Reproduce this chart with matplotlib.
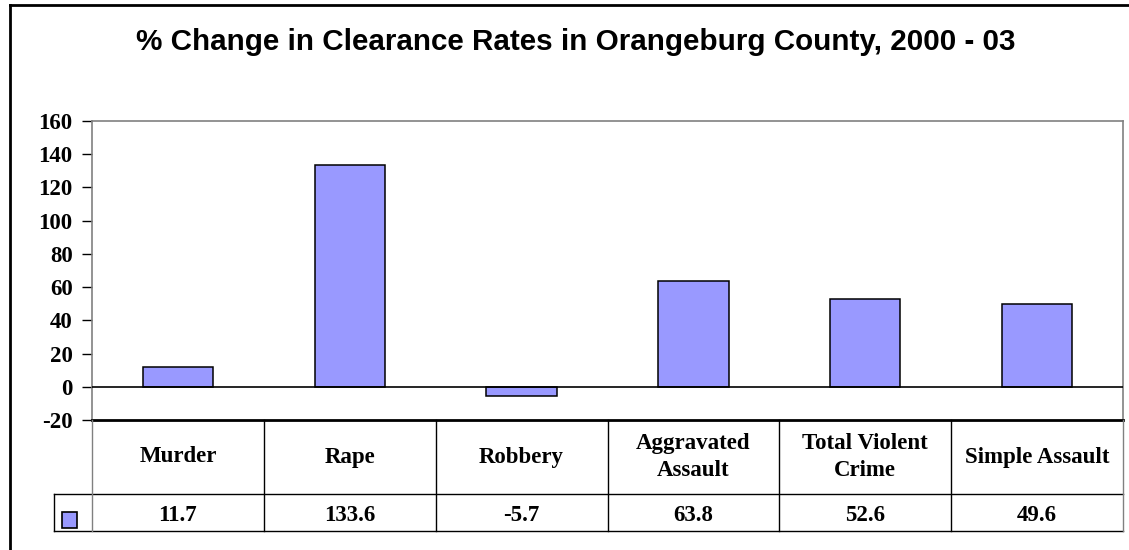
import matplotlib
matplotlib.use("Agg")
import matplotlib.pyplot as plt
from matplotlib.lines import Line2D
from matplotlib.patches import Rectangle
import numpy as np

title = "% Change in Clearance Rates in Orangeburg County, 2000 - 03"
categories = ["Murder", "Rape", "Robbery", "Aggravated\nAssault", "Total Violent\nCrime", "Simple Assault"]
values = [11.7, 133.6, -5.7, 63.8, 52.6, 49.6]
value_labels = ["11.7", "133.6", "-5.7", "63.8", "52.6", "49.6"]
yticks = [-20, 0, 20, 40, 60, 80, 100, 120, 140, 160]

W, H = 1129, 550
fig = plt.figure(figsize=(W / 100, H / 100), dpi=100)
fig.patch.set_facecolor("white")

def fx(px):
    return px / W

def fy(py):
    return 1 - py / H

# outer frame (partly outside the image)
fig.add_artist(Line2D([fx(10), fx(10)], [fy(5), fy(560)], color="black", lw=2))
fig.add_artist(Line2D([fx(10), fx(1140)], [fy(5), fy(5)], color="black", lw=2))

L, R, T, B = 92, 1123, 121, 420
ax = fig.add_axes([fx(L), fy(B), fx(R) - fx(L), fy(T) - fy(B)])
n = len(categories)
x = np.arange(n)
ax.bar(x, values, width=0.41, color="#9999FF", edgecolor="black", linewidth=1.1, zorder=3)
ax.set_xlim(-0.5, n - 0.5)
ax.set_ylim(-20, 160)
ax.axhline(0, color="black", lw=1.2, zorder=4)
ax.set_yticks(yticks)
ax.set_yticklabels([str(t) for t in yticks], fontfamily="Liberation Serif",
                   fontweight="bold", fontsize=16.5)
ax.tick_params(axis="y", length=7, width=1, direction="out", pad=7, colors="black")
ax.tick_params(axis="x", length=0, labelbottom=False)
for s in ["top", "right", "left"]:
    ax.spines[s].set_color("#808080")
    ax.spines[s].set_linewidth(1.2)
ax.spines["bottom"].set_color("black")
ax.spines["bottom"].set_linewidth(2)

fig.text(fx(576), fy(50), title, ha="center", va="baseline", fontsize=21.3,
         fontweight="bold", fontfamily="Liberation Sans")

# data table below the axes
row1_top, row1_bot, row2_bot = 420, 494, 531
legend_left = 54
col_w = (R - L) / n
lc = "black"
lw = 1.0
fig.add_artist(Line2D([fx(legend_left), fx(R)], [fy(row1_bot), fy(row1_bot)], color=lc, lw=lw))
fig.add_artist(Line2D([fx(legend_left), fx(R)], [fy(row2_bot), fy(row2_bot)], color=lc, lw=lw))
fig.add_artist(Line2D([fx(legend_left), fx(legend_left)], [fy(row1_bot), fy(row2_bot)], color=lc, lw=lw))
fig.add_artist(Line2D([fx(L), fx(L)], [fy(row1_top), fy(row2_bot)], color="#808080", lw=lw))
fig.add_artist(Line2D([fx(R), fx(R)], [fy(row1_top), fy(row2_bot)], color="#808080", lw=lw))
for i in range(1, n):
    xp = L + i * col_w
    fig.add_artist(Line2D([fx(xp), fx(xp)], [fy(row1_top), fy(row2_bot)], color=lc, lw=lw))

for i, (cat, val) in enumerate(zip(categories, value_labels)):
    xc = L + (i + 0.5) * col_w
    fig.text(fx(xc), fy((row1_top + row1_bot) / 2), cat, ha="center", va="center",
             fontsize=16.5, fontweight="bold", fontfamily="Liberation Serif", linespacing=1.4)
    fig.text(fx(xc), fy((row1_bot + row2_bot) / 2 + 3), val, ha="center", va="center",
             fontsize=16.5, fontweight="bold", fontfamily="Liberation Serif")

fig.add_artist(Rectangle((fx(62), fy(528)), fx(15), fy(512) - fy(528),
                         facecolor="#9999FF", edgecolor="black", lw=1.2))

fig.savefig("out.png", dpi=100, facecolor="white")
